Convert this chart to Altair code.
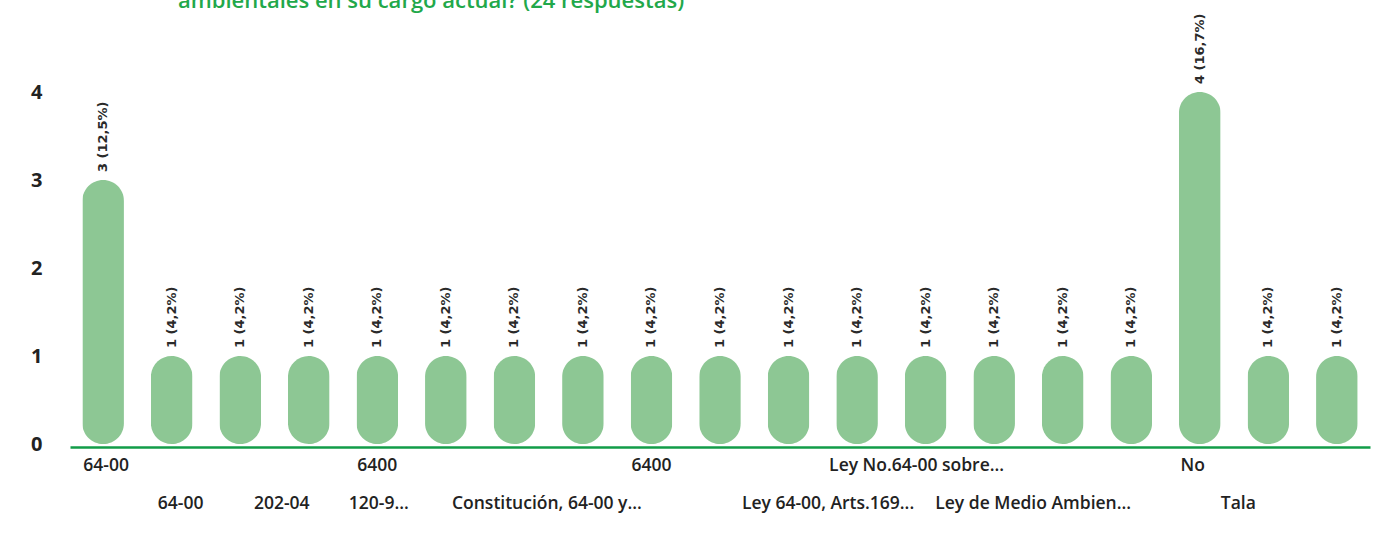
import altair as alt
import pandas as pd

# ---- data ----
counts = [3, 1, 1, 1, 1, 1, 1, 1, 1, 1, 1, 1, 1, 1, 1, 1, 4, 1, 1]
value_labels = ["3 (12,5%)", "1 (4,2%)", "1 (4,2%)", "1 (4,2%)", "1 (4,2%)",
                "1 (4,2%)", "1 (4,2%)", "1 (4,2%)", "1 (4,2%)", "1 (4,2%)",
                "1 (4,2%)", "1 (4,2%)", "1 (4,2%)", "1 (4,2%)", "1 (4,2%)",
                "1 (4,2%)", "4 (16,7%)", "1 (4,2%)", "1 (4,2%)"]
# visible category labels (staggered on two rows; hidden ones are empty)
labels_row1 = ["64-00", "", "", "", "6400", "", "", "", "6400", "", "", "",
               "Ley No.64-00 sobre...", "", "", "", "No", "", ""]
labels_row2 = ["", "64-00", "", "202-04", "", "120-9...", "", "Constitución, 64-00 y...",
               "", "", "", "Ley 64-00, Arts.169...", "", "Ley de Medio Ambien...",
               "", "", "", "Tala", ""]
title_text = "ambientales en su cargo actual? (24 respuestas)"
y_ticks = [0, 1, 2, 3, 4]

n = len(counts)
df = pd.DataFrame({
    "idx": list(range(n)),
    "count": counts,
    "vlabel": value_labels,
    "row1": labels_row1,
    "row2": labels_row2,
})

# ---- styling ----
BAR = "#8dc794"
GREEN = "#129c48"
TITLE_GREEN = "#22a84a"
FONT = "Open Sans"
# small horizontal nudges of the staggered category labels (pixels)
row1_nudge = {0: 3, 12: -9, 16: -7}
row2_nudge = {1: 9, 3: -27, 5: -67, 7: -36, 11: -29, 13: 39, 17: -30}

xenc = alt.X("idx:O",
             scale=alt.Scale(domain=list(range(n)), paddingInner=0.393, paddingOuter=0.18),
             axis=alt.Axis(labels=False, ticks=False, title=None,
                           domainColor=GREEN, domainWidth=2.5, offset=3))
base = alt.Chart(df).encode(x=xenc)

bars = base.mark_bar(color=BAR, cornerRadius=21).encode(
    y=alt.Y("count:Q",
            scale=alt.Scale(domain=[0, 4], nice=False),
            axis=alt.Axis(values=y_ticks, grid=False, domain=False, ticks=False,
                          title=None, format="d", labelFontSize=20,
                          labelFont=FONT, labelFontWeight="bold",
                          labelColor="#222222", labelPadding=28))
)

vtext = base.mark_text(angle=270, align="left", baseline="middle", dx=8,
                       fontSize=13, font="DejaVu Sans", fontWeight="bold",
                       color="#2a2a2a").encode(
    y="count:Q", text="vlabel:N")

layers = [bars, vtext]
for field, ypos, nudge in (("row1", 374, row1_nudge), ("row2", 412, row2_nudge)):
    col = df[field].tolist()
    for i, lab in enumerate(col):
        if not lab:
            continue
        layers.append(
            base.transform_filter(alt.datum.idx == i).mark_text(
                align="center", baseline="middle", fontSize=17.5, font=FONT,
                fontWeight=600, color="#222222", dx=nudge.get(i, 0)
            ).encode(y=alt.value(ypos), text=f"{field}:N")
        )

title = alt.Chart(pd.DataFrame({"t": [title_text]})).mark_text(
    align="left", baseline="alphabetic", fontSize=22, font=FONT,
    fontWeight=600, color=TITLE_GREEN).encode(
    x=alt.value(108), y=alt.value(-84), text="t:N")
layers.append(title)

chart = alt.layer(*layers).properties(
    width=1300, height=352,
    autosize=alt.AutoSizeParams(type="none"),
    padding={"left": 70, "top": 92, "right": 15, "bottom": 93},
).configure_view(stroke=None)

chart.save("out.html", embed_options={"renderer": "svg", "actions": False})
